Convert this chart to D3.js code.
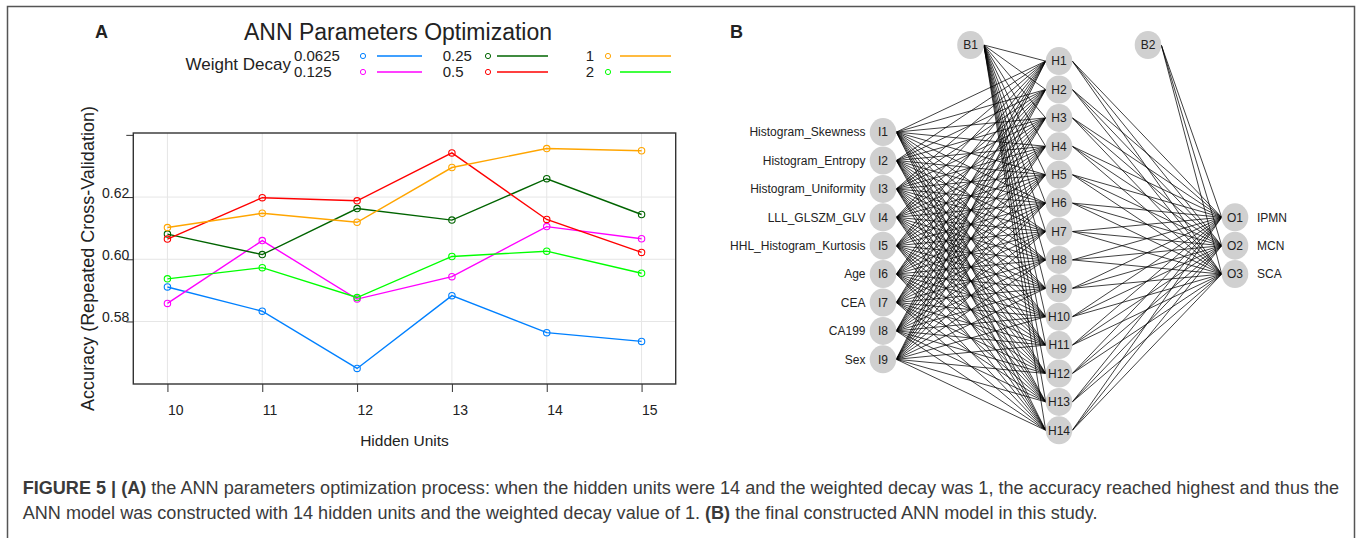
<!DOCTYPE html>
<html>
<head>
<meta charset="utf-8">
<script src="https://cdn.jsdelivr.net/npm/d3@7"></script>
<style>
  body { margin: 0; background: #fff; }
  svg { display: block; font-family: "Liberation Sans", Arial, Helvetica, sans-serif; }
</style>
</head>
<body>
<svg id="fig" width="1357" height="538"></svg>
<script>
// panel A data
const hiddenUnits = [10, 11, 12, 13, 14, 15];
const decayLabels = ["0.0625", "0.125", "0.25", "0.5", "1", "2"];
const acc0625 = [0.5911, 0.5833, 0.5649, 0.5883, 0.5764, 0.5736];
const acc125  = [0.5858, 0.6060, 0.5872, 0.5944, 0.6105, 0.6066];
const acc25   = [0.6081, 0.6015, 0.6163, 0.6126, 0.6259, 0.6144];
const acc5    = [0.6065, 0.6198, 0.6188, 0.6342, 0.6128, 0.6022];
const acc1    = [0.6102, 0.6148, 0.6119, 0.6295, 0.6356, 0.6349];
const acc2    = [0.5937, 0.5973, 0.5877, 0.6009, 0.6026, 0.5955];
const yTickValues = [0.58, 0.60, 0.62, 0.64];
const yTickLabels = ["0.58", "0.60", "0.62", ""];

// panel B data
const inputLabels = ["Histogram_Skewness", "Histogram_Entropy", "Histogram_Uniformity",
  "LLL_GLSZM_GLV", "HHL_Histogram_Kurtosis", "Age", "CEA", "CA199", "Sex"];
const nHidden = 14;
const outputLabels = ["IPMN", "MCN", "SCA"];

const colors = ["#0080ff", "#ff00ff", "#006400", "#ff0000", "#ffa500", "#00ff00"];
const seriesData = [acc0625, acc125, acc25, acc5, acc1, acc2];

const svg = d3.select("#fig");
const ink = "#333";

// outer figure border
svg.append("path")
  .attr("d", "M7.5,540 V6.5 H1354.5 V540")
  .attr("fill", "none").attr("stroke", "#555").attr("stroke-width", 1.5);

// ---------- Panel A ----------
const x = d3.scaleLinear().domain([9.64, 15.36]).range([133.3, 675.7]);
const y = d3.scaleLinear().domain([0.5599, 0.6406]).range([384, 133]);

svg.append("text").attr("x", 95).attr("y", 37.5)
  .attr("font-weight", "bold").attr("font-size", 18).attr("fill", "#222").text("A");

svg.append("text").attr("x", 398).attr("y", 40).attr("text-anchor", "middle")
  .attr("font-size", 23).attr("fill", "#222").text("ANN Parameters Optimization");

// legend
const legend = svg.append("g");
const rowY = [56, 72];
const colText = [294, 442.7, 585.7];
const colDot = [363, 488, 608];
const colLine = [[377, 422], [497, 548], [620, 671]];
legend.append("text").attr("x", 291).attr("y", (rowY[0] + rowY[1]) / 2)
  .attr("dy", "0.35em").attr("text-anchor", "end").attr("font-size", 17).attr("fill", "#222")
  .text("Weight Decay");
decayLabels.forEach((lab, i) => {
  const c = Math.floor(i / 2), r = i % 2;
  legend.append("text").attr("x", colText[c]).attr("y", rowY[r]).attr("dy", "0.35em")
    .attr("font-size", 15).attr("fill", "#222").text(lab);
  legend.append("circle").attr("cx", colDot[c]).attr("cy", rowY[r]).attr("r", 2.6)
    .attr("fill", "none").attr("stroke", colors[i]).attr("stroke-width", 1);
  legend.append("line").attr("x1", colLine[c][0]).attr("x2", colLine[c][1])
    .attr("y1", rowY[r]).attr("y2", rowY[r])
    .attr("stroke", colors[i]).attr("stroke-width", 1.3);
});

// grid
const grid = svg.append("g").attr("stroke", "#e6e6e6").attr("stroke-width", 1);
grid.selectAll("line.v").data(hiddenUnits).join("line")
  .attr("x1", d => x(d)).attr("x2", d => x(d)).attr("y1", 133).attr("y2", 384);
grid.selectAll("line.h").data([0.58, 0.60, 0.62]).join("line").attr("class", "h")
  .attr("x1", 133.3).attr("x2", 675.7).attr("y1", d => y(d)).attr("y2", d => y(d));

// axes
const xAxis = svg.append("g").attr("transform", "translate(0,384)")
  .call(d3.axisBottom(x).tickValues(hiddenUnits).tickSize(8).tickFormat(d3.format("d")));
xAxis.select(".domain").remove();
xAxis.selectAll("line").attr("stroke", ink);
xAxis.selectAll("text").attr("text-anchor", "start").attr("x", 0).attr("y", 31).attr("dy", 0)
  .attr("font-size", 14).attr("font-family", null).attr("fill", "#222");

const yAxis = svg.append("g").attr("transform", "translate(133.3,0)")
  .call(d3.axisLeft(y).tickValues(yTickValues).tickSize(7).tickFormat((d, i) => yTickLabels[i]));
yAxis.select(".domain").remove();
yAxis.selectAll("line").attr("stroke", ink);
yAxis.selectAll("text").attr("x", -4).attr("dy", 0)
  .attr("font-size", 14).attr("font-family", null).attr("fill", "#222");

svg.append("rect").attr("x", 133.3).attr("y", 133).attr("width", 675.7 - 133.3).attr("height", 384 - 133)
  .attr("fill", "none").attr("stroke", ink).attr("stroke-width", 1.4);

// series
const line = d3.line().x((d, i) => x(hiddenUnits[i])).y(d => y(d));
seriesData.forEach((vals, s) => {
  svg.append("path").datum(vals).attr("d", line)
    .attr("fill", "none").attr("stroke", colors[s]).attr("stroke-width", 1.4);
  svg.append("g").selectAll("circle").data(vals).join("circle")
    .attr("cx", (d, i) => x(hiddenUnits[i])).attr("cy", d => y(d)).attr("r", 3.2)
    .attr("fill", "none").attr("stroke", colors[s]).attr("stroke-width", 1.1);
});

svg.append("text").attr("transform", "translate(88,258.5) rotate(-90)")
  .attr("text-anchor", "middle").attr("dy", "0.35em").attr("font-size", 18).attr("fill", "#222")
  .text("Accuracy (Repeated Cross-Validation)");
svg.append("text").attr("x", 404.5).attr("y", 446).attr("text-anchor", "middle")
  .attr("font-size", 15.5).attr("fill", "#222").text("Hidden Units");

// ---------- Panel B ----------
svg.append("text").attr("x", 730).attr("y", 37.5)
  .attr("font-weight", "bold").attr("font-size", 18).attr("fill", "#222").text("B");

const layerX = d3.scalePoint().domain(["input", "hidden", "output"]).range([883, 1235]);
const nodeY = d3.scaleLinear().domain([0, 1]).range([245.7, 274.1]); // offset from centre, in node steps
const rx = 13.3, ry = 14;

const inputs = inputLabels.map((lab, i) => ({ id: "I" + (i + 1), lab, x: layerX("input"), y: nodeY(i - (inputLabels.length - 1) / 2) }));
const hidden = d3.range(nHidden).map(i => ({ id: "H" + (i + 1), x: layerX("hidden"), y: nodeY(i - (nHidden - 1) / 2) }));
const outputs = outputLabels.map((lab, i) => ({ id: "O" + (i + 1), lab, x: layerX("output"), y: nodeY(i - (outputLabels.length - 1) / 2) }));
const biasY = 45;
const b1 = { id: "B1", x: (layerX("input") + layerX("hidden")) / 2 - 0.5, y: biasY };
const b2 = { id: "B2", x: (layerX("hidden") + layerX("output")) / 2 + 1, y: biasY };

const edges = [];
inputs.forEach(a => hidden.forEach(b => edges.push([a, b])));
hidden.forEach(b => edges.push([b1, b]));
hidden.forEach(a => outputs.forEach(b => edges.push([a, b])));
outputs.forEach(b => edges.push([b2, b]));

svg.append("g").attr("stroke", "#000").attr("stroke-width", 0.75)
  .selectAll("line").data(edges).join("line")
  .attr("x1", d => d[0].x + rx).attr("y1", d => d[0].y)
  .attr("x2", d => d[1].x - rx).attr("y2", d => d[1].y);

const allNodes = [...inputs, ...hidden, ...outputs, b1, b2];
const ng = svg.append("g").selectAll("g").data(allNodes).join("g")
  .attr("transform", d => `translate(${d.x},${d.y})`);
ng.append("ellipse").attr("rx", rx).attr("ry", ry).attr("fill", "#d0d0d0");
ng.append("text").attr("text-anchor", "middle").attr("dy", "0.36em")
  .attr("font-size", 12).attr("fill", "#222").text(d => d.id);

svg.append("g").selectAll("text").data(inputs).join("text")
  .attr("x", d => d.x - 17.5).attr("y", d => d.y).attr("dy", "0.36em").attr("text-anchor", "end")
  .attr("font-size", 12).attr("fill", "#222").text(d => d.lab);
svg.append("g").selectAll("text").data(outputs).join("text")
  .attr("x", d => d.x + 22).attr("y", d => d.y).attr("dy", "0.36em")
  .attr("font-size", 12).attr("fill", "#222").text(d => d.lab);

// ---------- Caption ----------
const capColor = "#3a3a3a";
const cap1 = svg.append("text").attr("x", 22.7).attr("y", 494).attr("fill", capColor).attr("font-size", 16);
cap1.append("tspan").attr("font-weight", "bold").text("FIGURE 5 | (A)");
cap1.append("tspan").text(" the ANN parameters optimization process: when the hidden units were 14 and the weighted decay was 1, the accuracy reached highest and thus the");
const cap2 = svg.append("text").attr("x", 22.7).attr("y", 519).attr("fill", capColor).attr("font-size", 16);
cap2.append("tspan").text("ANN model was constructed with 14 hidden units and the weighted decay value of 1. ");
cap2.append("tspan").attr("font-weight", "bold").text("(B)");
cap2.append("tspan").text(" the final constructed ANN model in this study.");

// fit first caption line to the measured width
const w1 = cap1.node().getComputedTextLength();
const fs = 16 * 1318 / w1;
cap1.attr("font-size", fs);
cap2.attr("font-size", fs);
</script>
</body>
</html>
